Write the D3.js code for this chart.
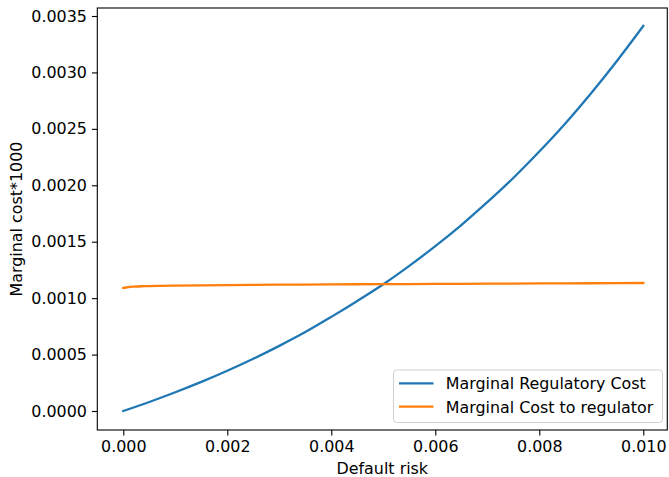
<!DOCTYPE html>
<html>
<head>
<meta charset="utf-8">
<script src="https://cdn.jsdelivr.net/npm/d3@7"></script>
<style>
  body { margin: 0; background: #fff; }
  text { font-family: "DejaVu Sans", sans-serif; fill: #000; }
</style>
</head>
<body>
<div id="chart"></div>
<script>
// Data
var riskX = [0, 0.0005, 0.001, 0.0015, 0.002, 0.0025, 0.003, 0.0035, 0.004, 0.0045,
             0.005, 0.0055, 0.006, 0.0065, 0.007, 0.0075, 0.008, 0.0085, 0.009, 0.0095, 0.01];
var regulatoryCost = [0, 0.00008, 0.000166, 0.000258, 0.000357, 0.000463, 0.000577, 0.000699,
                      0.000834, 0.000975, 0.001123, 0.001286, 0.001461, 0.001648, 0.00185,
                      0.002065, 0.002299, 0.002548, 0.002818, 0.003106, 0.003412];

var regulatorX = [0, 0.0001, 0.0002, 0.0004, 0.0007, 0.001, 0.002, 0.003, 0.004,
                  0.005, 0.006, 0.007, 0.008, 0.009, 0.01];
var regulatorCost = [0.00109, 0.001098, 0.001102, 0.001106, 0.001109, 0.001111, 0.001115,
                     0.001119, 0.001122, 0.001124, 0.001126, 0.001128, 0.00113, 0.001132, 0.001134];

var xTicks = [0, 0.002, 0.004, 0.006, 0.008, 0.01];
var yTicks = [0, 0.0005, 0.001, 0.0015, 0.002, 0.0025, 0.003, 0.0035];
var seriesNames = ["Marginal Regulatory Cost", "Marginal Cost to regulator"];

var svgWidth = 669;
var svgHeight = 477;

// axes box in pixels
var box = { left: 97.3, right: 667.3, top: 8, bottom: 430 };

var svg = d3.select("#chart")
  .append("svg")
  .attr("width", svgWidth)
  .attr("height", svgHeight);

// Scales
var xScale = d3.scaleLinear()
  .domain([0, 0.01])
  .range([123.3, 643.3]);

var yScale = d3.scaleLinear()
  .domain([0, 0.0035])
  .range([411, 16]);

var fontSize = "15.9px";

// Axes
var bottomAxis = d3.axisBottom(xScale)
  .tickValues(xTicks)
  .tickFormat(d3.format(".3f"))
  .tickSize(5.4)
  .tickPadding(5);

var leftAxis = d3.axisLeft(yScale)
  .tickValues(yTicks)
  .tickFormat(d3.format(".4f"))
  .tickSize(5.4)
  .tickPadding(5);

var gx = svg.append("g")
  .attr("transform", `translate(0, ${box.bottom})`)
  .call(bottomAxis);

var gy = svg.append("g")
  .attr("transform", `translate(${box.left}, 0)`)
  .call(leftAxis);

[gx, gy].forEach(function(g) {
  g.select(".domain").remove();
  g.selectAll(".tick line").attr("stroke", "#000").attr("stroke-width", 1.1);
  g.selectAll(".tick text")
    .style("font-family", "DejaVu Sans")
    .style("font-size", fontSize)
    .attr("fill", "#000");
});

// Lines
var line = d3.line()
  .x(d => xScale(d[0]))
  .y(d => yScale(d[1]))
  .curve(d3.curveMonotoneX);

svg.append("path")
  .datum(riskX.map((x, i) => [x, regulatoryCost[i]]))
  .attr("d", line)
  .attr("fill", "none")
  .attr("stroke", "#1f77b4")
  .attr("stroke-width", 2.3)
  .attr("stroke-linecap", "square");

svg.append("path")
  .datum(regulatorX.map((x, i) => [x, regulatorCost[i]]))
  .attr("d", line)
  .attr("fill", "none")
  .attr("stroke", "#ff7f0e")
  .attr("stroke-width", 2.3)
  .attr("stroke-linecap", "square");

// Frame
svg.append("rect")
  .attr("x", box.left)
  .attr("y", box.top)
  .attr("width", box.right - box.left)
  .attr("height", box.bottom - box.top)
  .attr("fill", "none")
  .attr("stroke", "#000")
  .attr("stroke-width", 1.1);

// Axis labels
svg.append("text")
  .attr("x", (box.left + box.right) / 2)
  .attr("y", 474)
  .attr("text-anchor", "middle")
  .style("font-size", fontSize)
  .text("Default risk");

svg.append("text")
  .attr("transform", `translate(22, ${(box.top + box.bottom) / 2}) rotate(-90)`)
  .attr("text-anchor", "middle")
  .style("font-size", fontSize)
  .text("Marginal cost*1000");

// Legend
var legend = svg.append("g");

legend.append("rect")
  .attr("x", 393.5)
  .attr("y", 370)
  .attr("width", 269)
  .attr("height", 52.5)
  .attr("rx", 3)
  .attr("fill", "#fff")
  .attr("fill-opacity", 0.8)
  .attr("stroke", "#d0d0d0")
  .attr("stroke-width", 1);

var colors = ["#1f77b4", "#ff7f0e"];
seriesNames.forEach(function(name, i) {
  var y = 383.3 + i * 23.4;
  legend.append("line")
    .attr("x1", 399)
    .attr("x2", 433.5)
    .attr("y1", y)
    .attr("y2", y)
    .attr("stroke", colors[i])
    .attr("stroke-width", 2.3);
  legend.append("text")
    .attr("x", 445.7)
    .attr("y", y + 5.8)
    .style("font-size", fontSize)
    .text(name);
});
</script>
</body>
</html>
